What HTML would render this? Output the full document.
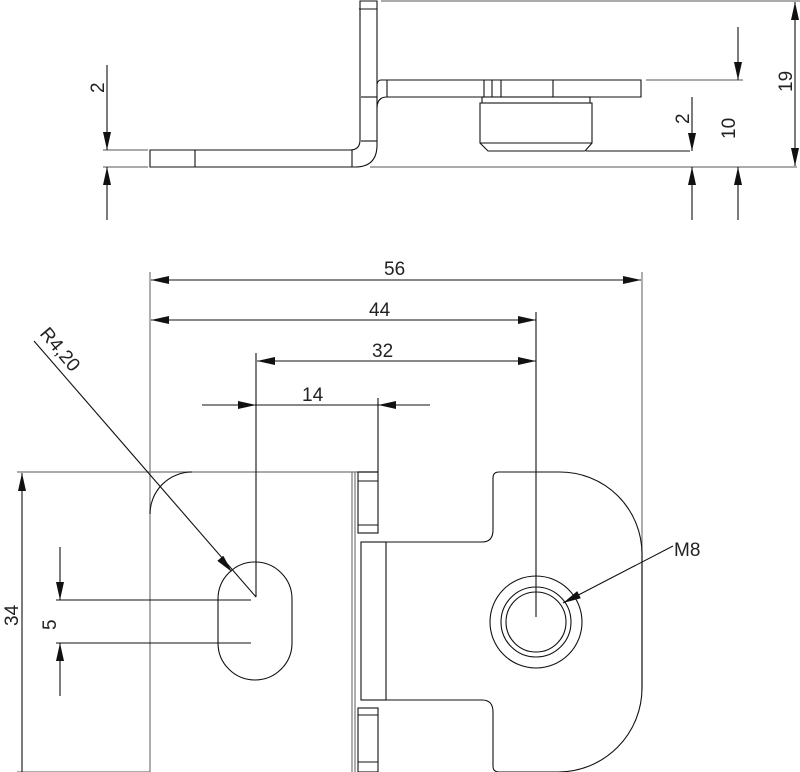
<!DOCTYPE html>
<html><head><meta charset="utf-8"><style>
html,body{margin:0;padding:0;background:#fff;}
svg{display:block;}
</style></head><body>
<svg width="800" height="772" viewBox="0 0 800 772" xmlns="http://www.w3.org/2000/svg">
<g fill="none" stroke="#777" stroke-width="1.2">
<line x1="381" y1="1" x2="800" y2="1"/>
<line x1="370" y1="167" x2="797" y2="167"/>
<line x1="646" y1="80" x2="743" y2="80"/>
<line x1="103" y1="150" x2="148" y2="150"/>
<line x1="103" y1="167" x2="148" y2="167"/>
<line x1="150" y1="272" x2="150" y2="772"/>
<line x1="642" y1="272" x2="642" y2="690"/>
<line x1="17" y1="472" x2="378" y2="472"/>
<line x1="17" y1="772" x2="150" y2="772"/>
<line x1="352" y1="472" x2="352" y2="772"/>
<line x1="355" y1="472" x2="355" y2="772"/>
</g>
<g fill="none" stroke="#111" stroke-width="1.1">
<path d="M360,1 L360,140 Q360,150 350,150 L150,150 L150,167 L355,167 Q377,167 377,145 L377,1 Z"/>
<line x1="359" y1="9" x2="377" y2="9"/>
<line x1="361" y1="97" x2="377" y2="97"/>
<line x1="361" y1="141" x2="377" y2="141"/>
<line x1="195" y1="150" x2="195" y2="167"/>
<line x1="352" y1="150" x2="352" y2="167"/>
<path d="M377,84 Q378,80 381,80 L641,80 L641,97 L387,97 Q377,97 377,108"/>
<line x1="387" y1="80" x2="387" y2="97"/>
<line x1="484" y1="80" x2="484" y2="97"/>
<line x1="492" y1="80" x2="492" y2="97"/>
<line x1="501" y1="80" x2="501" y2="97"/>
<line x1="553" y1="80" x2="553" y2="97"/>
<rect x="482" y="97" width="108" height="6"/>
<path d="M480,103 L592,103 L592,143 L585,151 L488,151 L480,143 Z"/>
<line x1="480" y1="143" x2="592" y2="143"/>
<line x1="586" y1="151" x2="690" y2="151"/>
<line x1="107" y1="65" x2="107" y2="150"/>
<line x1="107" y1="220" x2="107" y2="167"/>
<line x1="692" y1="97" x2="692" y2="151"/>
<line x1="692" y1="220" x2="692" y2="167"/>
<line x1="738" y1="27" x2="738" y2="80"/>
<line x1="738" y1="220" x2="738" y2="167"/>
<line x1="795" y1="2" x2="795" y2="166"/>
<line x1="151" y1="280" x2="641" y2="280"/>
<line x1="151" y1="320" x2="536" y2="320"/>
<line x1="257" y1="361" x2="536" y2="361"/>
<line x1="202" y1="405" x2="430" y2="405"/>
<line x1="536" y1="312" x2="536" y2="617"/>
<line x1="256" y1="353" x2="256" y2="597"/>
<line x1="378" y1="398" x2="378" y2="472"/>
<line x1="22" y1="473" x2="22" y2="772"/>
<line x1="56" y1="600" x2="251" y2="600"/>
<line x1="56" y1="643" x2="251" y2="643"/>
<line x1="60" y1="547" x2="60" y2="600"/>
<line x1="60" y1="696" x2="60" y2="643"/>
<line x1="34" y1="341" x2="256" y2="597"/>
<line x1="673" y1="546" x2="563" y2="603"/>
<path d="M150,514 A42,42 0 0 1 192,472"/>
<rect x="218" y="562" width="74" height="118" rx="37" ry="37"/>
<rect x="358" y="472" width="20" height="61"/>
<line x1="358" y1="481" x2="378" y2="481"/>
<line x1="358" y1="525" x2="378" y2="525"/>
<rect x="358" y="708" width="20" height="64"/>
<line x1="358" y1="715" x2="378" y2="715"/>
<line x1="358" y1="762" x2="378" y2="762"/>
<rect x="361" y="542" width="25" height="158"/>
<path d="M378,542 L482,542 Q493,542 493,530 L493,478 Q493,472 499,472 L560,472 A82,82 0 0 1 642,554 L642,688 A84,84 0 0 1 558,772 L499,772 Q493,772 493,766 L493,712 Q493,700 482,700 L386,700"/>
<circle cx="536" cy="622" r="46"/>
<circle cx="536" cy="622" r="35"/>
<circle cx="536" cy="622" r="30"/>
</g>
<g fill="#111" stroke="none">
<polygon points="107,150 103,132 111,132"/>
<polygon points="107,167 103,185 111,185"/>
<polygon points="692,151 688,133 696,133"/>
<polygon points="692,167 688,185 696,185"/>
<polygon points="738,80 734,62 742,62"/>
<polygon points="738,167 734,185 742,185"/>
<polygon points="795,2 791,20 799,20"/>
<polygon points="795,166 791,148 799,148"/>
<polygon points="151,280 169,276 169,284"/>
<polygon points="641,280 623,276 623,284"/>
<polygon points="151,320 169,316 169,324"/>
<polygon points="536,320 518,316 518,324"/>
<polygon points="257,361 275,357 275,365"/>
<polygon points="536,361 518,357 518,365"/>
<polygon points="256,405 238,401 238,409"/>
<polygon points="378,405 396,401 396,409"/>
<polygon points="22,473 18,491 26,491"/>
<polygon points="60,600 56,582 64,582"/>
<polygon points="60,643 56,661 64,661"/>
<polygon points="232,572 217.3,560.9 223.3,555.7"/>
<polygon points="563,603 577.2,591.1 580.8,598.3"/>
</g>
<g font-family="Liberation Sans, sans-serif" font-size="19" fill="#222">
<text x="0" y="0" transform="translate(104,93) rotate(-90)">2</text>
<text x="0" y="0" transform="translate(689,124) rotate(-90)">2</text>
<text x="0" y="0" transform="translate(735,139) rotate(-90)">10</text>
<text x="0" y="0" transform="translate(792,92) rotate(-90)">19</text>
<text x="384" y="275">56</text>
<text x="369" y="316">44</text>
<text x="372" y="357">32</text>
<text x="302" y="401">14</text>
<text x="0" y="0" transform="translate(18,626) rotate(-90)">34</text>
<text x="0" y="0" transform="translate(56,630) rotate(-90)">5</text>
<text x="0" y="0" transform="translate(39,334) rotate(50)">R4,20</text>
<text x="674" y="556">M8</text>
</g>
</svg>
</body></html>
